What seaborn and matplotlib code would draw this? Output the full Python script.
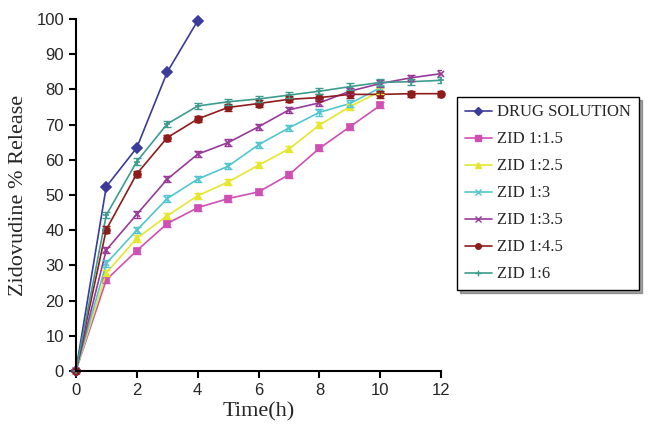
import pandas as pd
import seaborn as sns
import matplotlib.pyplot as plt

# time points (h)
time_drug = [0, 1, 2, 3, 4]
time_zid = [0, 1, 2, 3, 4, 5, 6, 7, 8, 9, 10]
time_long = [0, 1, 2, 3, 4, 5, 6, 7, 8, 9, 10, 11, 12]

# % release
drug_solution = [0, 52.4, 63.4, 84.9, 99.5]
zid_1_5 = [0, 25.9, 34.2, 41.9, 46.4, 49.0, 50.9, 55.8, 63.3, 69.4, 75.5]
zid_2_5 = [0, 27.9, 37.7, 44.1, 49.8, 53.7, 58.5, 63.1, 69.9, 75.1, 79.5]
zid_3 = [0, 30.6, 40.0, 49.0, 54.5, 58.2, 64.3, 69.1, 73.5, 76.0, 80.5]
zid_3_5 = [0, 34.4, 44.5, 54.5, 61.6, 64.9, 69.4, 74.2, 76.2, 79.5, 81.7, 83.3, 84.5]
zid_4_5 = [0, 40.2, 56.0, 66.3, 71.6, 74.9, 76.0, 77.2, 77.7, 78.6, 78.6, 78.8, 78.8]
zid_6 = [0, 44.3, 59.5, 70.2, 75.3, 76.5, 77.3, 78.4, 79.5, 80.8, 82.0, 82.2, 82.6]

labels = ['DRUG SOLUTION', 'ZID 1:1.5', 'ZID 1:2.5', 'ZID 1:3',
          'ZID 1:3.5', 'ZID 1:4.5', 'ZID 1:6']
series = [(time_drug, drug_solution), (time_zid, zid_1_5), (time_zid, zid_2_5),
          (time_zid, zid_3), (time_long, zid_3_5), (time_long, zid_4_5),
          (time_long, zid_6)]
sd = 0.9  # approx. size of the small error bars

colors = {
    'DRUG SOLUTION': '#3b3b99',
    'ZID 1:1.5': '#cf4fb3',
    'ZID 1:2.5': '#e6e62e',
    'ZID 1:3': '#52c6cf',
    'ZID 1:3.5': '#983a98',
    'ZID 1:4.5': '#8e1c1c',
    'ZID 1:6': '#3d9c8e',
}
markers = {
    'DRUG SOLUTION': 'D',
    'ZID 1:1.5': 's',
    'ZID 1:2.5': '^',
    'ZID 1:3': 'x',
    'ZID 1:3.5': 'x',
    'ZID 1:4.5': 'o',
    'ZID 1:6': '+',
}

rows = []
for name, (t, v) in zip(labels, series):
    for ti, vi in zip(t, v):
        rows.append({'time': ti, 'release': vi, 'formulation': name})
df = pd.DataFrame(rows)

sns.set_style("ticks")
plt.rcParams['font.family'] = ['Liberation Sans', 'DejaVu Sans']

fig = plt.figure(figsize=(6.48, 4.33), dpi=100)
ax = fig.add_axes([0.117, 0.143, 0.564, 0.813])

for name in labels:
    sub = df[df.formulation == name]
    sns.lineplot(data=sub, x='time', y='release', color=colors[name],
                 marker=markers[name], markersize=5, markeredgewidth=1.2,
                 markeredgecolor=colors[name], linewidth=1.2, ax=ax, clip_on=False)

# small error bars on the ZID formulations
for name, (t, v) in zip(labels[1:], series[1:]):
    ax.errorbar(t[1:], v[1:], yerr=sd, fmt='none', ecolor=colors[name],
                elinewidth=1.0, capsize=3, capthick=1.0)

ax.set_xlim(0, 12)
ax.set_ylim(0, 100)
ax.set_xticks(range(0, 13, 2))
ax.set_yticks(range(0, 101, 10))
ax.tick_params(axis='both', labelsize=12, length=5, width=1.5, direction='out', color='black')
for side in ['top', 'right']:
    ax.spines[side].set_visible(False)
for side in ['left', 'bottom']:
    ax.spines[side].set_linewidth(1.5)
    ax.spines[side].set_color('black')
ax.set_xlabel('Time(h)', fontsize=16, family='Liberation Serif', labelpad=3)
ax.set_ylabel('Zidovudine % Release', fontsize=16, family='Liberation Serif', labelpad=6)

handles = [plt.Line2D([], [], color=colors[n], marker=markers[n], markersize=4,
                      linewidth=1.2) for n in labels]
leg = fig.legend(handles, labels, loc='upper left', bbox_to_anchor=(0.706, 0.776),
                 prop={'family': 'Liberation Serif', 'size': 12},
                 frameon=True, fancybox=False, shadow=True, handlelength=1.6,
                 labelspacing=0.66, borderpad=0.45, handletextpad=0.35,
                 borderaxespad=0.0)
leg.get_frame().set_edgecolor('black')
leg.get_frame().set_linewidth(1.0)

fig.savefig('out.png', dpi=100)
